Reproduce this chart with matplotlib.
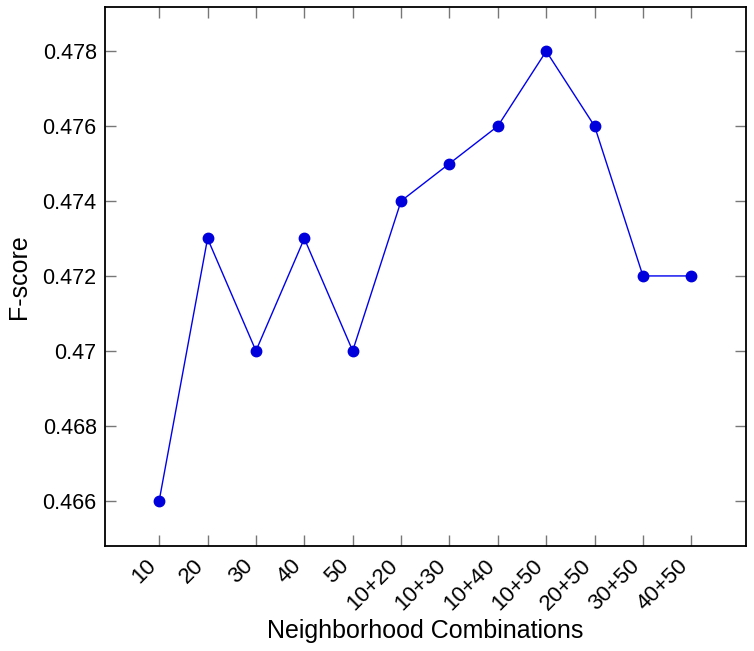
import matplotlib
matplotlib.use("Agg")
import matplotlib.pyplot as plt
from matplotlib.transforms import ScaledTranslation

categories = ["10", "20", "30", "40", "50", "10+20", "10+30", "10+40", "10+50", "20+50", "30+50", "40+50"]
fscore = [0.466, 0.473, 0.470, 0.473, 0.470, 0.474, 0.475, 0.476, 0.478, 0.476, 0.472, 0.472]
yticks = [0.466, 0.468, 0.470, 0.472, 0.474, 0.476, 0.478]
yticklabels = ["0.466", "0.468", "0.47", "0.472", "0.474", "0.476", "0.478"]

plt.rcParams['font.family'] = ['Liberation Sans', 'DejaVu Sans']

fig = plt.figure(figsize=(7.54, 6.51), dpi=100)
ax = fig.add_axes([105/754, 1-546/651, (746-105)/754, (546-7)/651])

x = list(range(len(categories)))
ax.plot(x, fscore, color='#0000ee', lw=1.0, marker='o', markersize=7.5,
        markerfacecolor='#0000dd', markeredgecolor='#0000dd')

ax.set_xlim(-1.12, 12.13)
ax.set_ylim(0.46479, 0.47918)
ax.set_xticks(x)
ax.set_xticklabels([])
offset = ScaledTranslation(-0.14, -0.09, fig.dpi_scale_trans)
for xi, cat in zip(x, categories):
    ax.text(xi, 0, cat, transform=ax.get_xaxis_transform() + offset,
            rotation=45, ha='right', va='top', rotation_mode='anchor', fontsize=16)
ax.set_yticks(yticks)
ax.set_yticklabels(yticklabels, fontsize=15.5)
ax.tick_params(direction='in', length=8, width=1, color='#777777', top=True, right=True, pad=6)
for s in ax.spines.values():
    s.set_linewidth(1.3)
ax.set_xlabel("Neighborhood Combinations", fontsize=18)
ax.xaxis.set_label_coords(0.5, -0.135)
ax.set_ylabel("F-score", fontsize=18, labelpad=8)

fig.savefig("out.png", dpi=100)
